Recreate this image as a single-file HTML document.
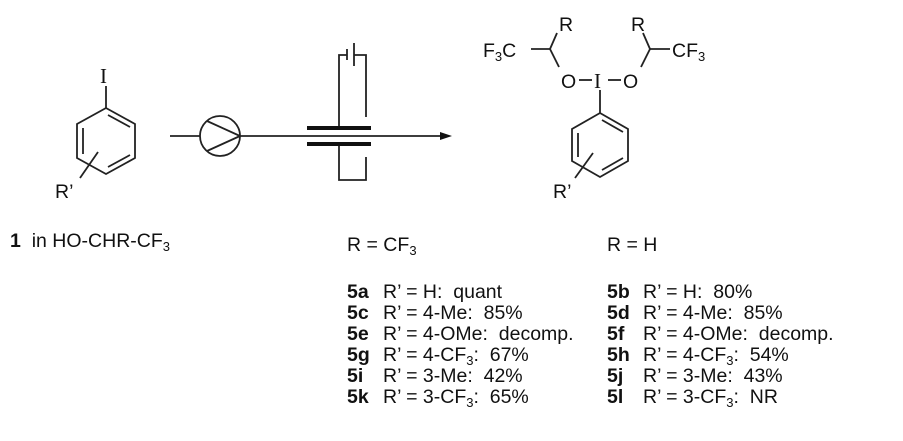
<!DOCTYPE html>
<html><head><meta charset="utf-8"><style>
html,body{margin:0;padding:0;background:#fff;}
svg{display:block;}
text{font-family:"Liberation Sans",Arial,sans-serif;font-size:19.5px;fill:#111;white-space:pre;}
.b{font-weight:bold;}
</style></head><body>
<svg width="903" height="441" viewBox="0 0 903 441" xmlns="http://www.w3.org/2000/svg">
<g stroke="#222" stroke-width="1.8" fill="none">
<line x1="106" y1="86" x2="106" y2="108"/>
<polygon points="106,108 135,124 135,158 106,174 77,158 77,124"/>
<line x1="108" y1="115" x2="130" y2="127"/>
<line x1="83" y1="128" x2="83" y2="154"/>
<line x1="108" y1="167" x2="130" y2="155"/>
<line x1="98" y1="152" x2="80" y2="178"/>
<line x1="170" y1="136" x2="200" y2="136"/>
<circle cx="220" cy="136" r="20"/>
<line x1="207" y1="121" x2="240" y2="136"/>
<line x1="207" y1="151" x2="240" y2="136"/>
<line x1="240" y1="136" x2="440" y2="136"/>
<polyline points="339,128 339,55 347,55"/>
<line x1="347" y1="49" x2="347" y2="60"/>
<line x1="354" y1="43" x2="354" y2="66"/>
<polyline points="354,55 366,55 366,117"/>
<polyline points="339,146 339,180 366,180 366,157"/>
<line x1="531" y1="49" x2="550" y2="49"/>
<line x1="550" y1="49" x2="557" y2="33"/>
<line x1="550" y1="49" x2="559" y2="67"/>
<line x1="579" y1="80" x2="592" y2="80"/>
<line x1="608" y1="80" x2="621" y2="80"/>
<line x1="641" y1="67" x2="650" y2="49"/>
<line x1="650" y1="49" x2="643" y2="33"/>
<line x1="650" y1="49" x2="670" y2="49"/>
<line x1="600" y1="90" x2="600" y2="113"/>
<polygon points="600,113 628,129 628,161 600,177 572,161 572,129"/>
<line x1="602" y1="120" x2="623" y2="132"/>
<line x1="578" y1="133" x2="578" y2="157"/>
<line x1="602" y1="170" x2="623" y2="158"/>
<line x1="593" y1="153" x2="575" y2="178"/>
</g>
<rect x="307" y="126" width="64" height="4" fill="#111"/>
<rect x="307" y="142" width="64" height="4" fill="#111"/>
<polygon points="452,136 440,132 440,140" fill="#111"/>
<text x="100" y="83" style="font-family:'Liberation Serif',serif;font-size:21px">I</text>
<text x="55" y="198">R’</text>
<text x="559" y="31">R</text>
<text x="483" y="57">F<tspan font-size="13" dy="4">3</tspan><tspan dy="-4">C</tspan></text>
<text x="561" y="88">O</text>
<text x="594" y="88" style="font-family:'Liberation Serif',serif;font-size:21px">I</text>
<text x="623" y="88">O</text>
<text x="631" y="31">R</text>
<text x="672" y="57">CF<tspan font-size="13" dy="4">3</tspan></text>
<text x="553" y="198">R’</text>
<text x="10" y="247"><tspan class="b">1</tspan>  in HO-CHR-CF<tspan font-size="13" dy="4">3</tspan></text>
<text x="347" y="251">R = CF<tspan font-size="13" dy="4">3</tspan></text>
<text x="607" y="251">R = H</text>
<text x="347" y="298" class="b">5a</text><text x="383" y="298">R’ = H:  quant</text>
<text x="347" y="319" class="b">5c</text><text x="383" y="319">R’ = 4-Me:  85%</text>
<text x="347" y="340" class="b">5e</text><text x="383" y="340">R’ = 4-OMe:  decomp.</text>
<text x="347" y="361" class="b">5g</text><text x="383" y="361">R’ = 4-CF<tspan font-size="13" dy="4">3</tspan><tspan dy="-4">:  67%</tspan></text>
<text x="347" y="382" class="b">5i</text><text x="383" y="382">R’ = 3-Me:  42%</text>
<text x="347" y="403" class="b">5k</text><text x="383" y="403">R’ = 3-CF<tspan font-size="13" dy="4">3</tspan><tspan dy="-4">:  65%</tspan></text>
<text x="607" y="298" class="b">5b</text><text x="643" y="298">R’ = H:  80%</text>
<text x="607" y="319" class="b">5d</text><text x="643" y="319">R’ = 4-Me:  85%</text>
<text x="607" y="340" class="b">5f</text><text x="643" y="340">R’ = 4-OMe:  decomp.</text>
<text x="607" y="361" class="b">5h</text><text x="643" y="361">R’ = 4-CF<tspan font-size="13" dy="4">3</tspan><tspan dy="-4">:  54%</tspan></text>
<text x="607" y="382" class="b">5j</text><text x="643" y="382">R’ = 3-Me:  43%</text>
<text x="607" y="403" class="b">5l</text><text x="643" y="403">R’ = 3-CF<tspan font-size="13" dy="4">3</tspan><tspan dy="-4">:  NR</tspan></text>
</svg>
</body></html>
